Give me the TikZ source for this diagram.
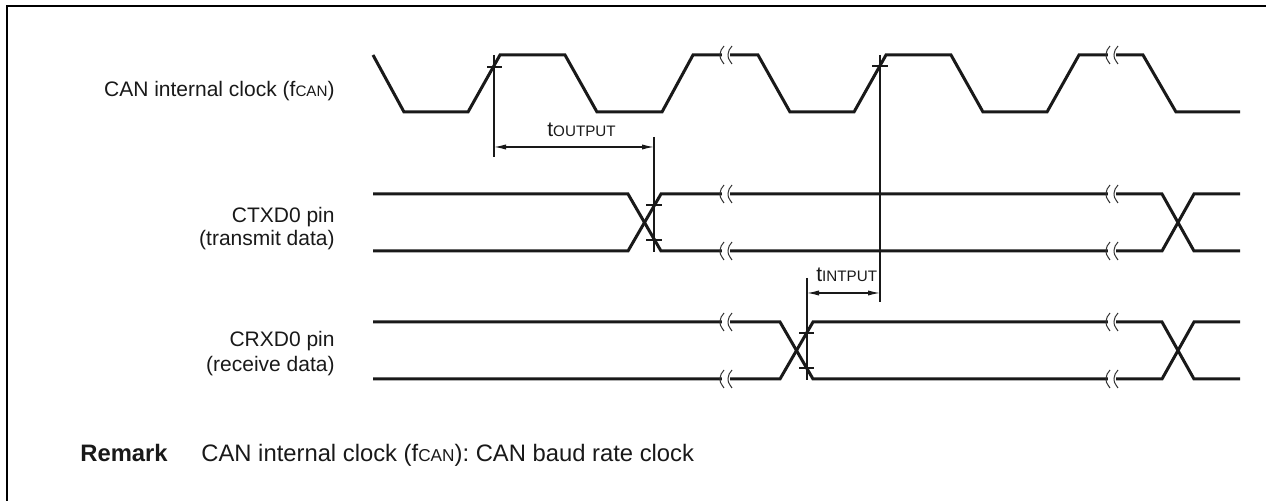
\documentclass[tikz,border=0pt]{standalone}
\usepackage{fontspec}
\setmainfont{Liberation Sans}
\usetikzlibrary{arrows.meta}
\newcommand{\smc}[1]{{\fontsize{7.6pt}{8pt}\selectfont #1}}
\newcommand{\smcr}[1]{{\fontsize{8.6pt}{9pt}\selectfont #1}}
\begin{document}
\begin{tikzpicture}[x=0.5pt,y=-0.5pt,
  sig/.style={line width=1.5pt,black!90},
  dimline/.style={line width=0.6pt,black!90},
  dimarrow/.style={dimline,{Latex[length=6pt,width=2.6pt]}-{Latex[length=6pt,width=2.6pt]}},
  lbl/.style={inner sep=0pt,font=\fontsize{10.5pt}{12pt}\selectfont,text=black!90},
  remlbl/.style={inner sep=0pt,font=\fontsize{11.9pt}{14pt}\selectfont,text=black!90},
  gapmark/.pic={
    \fill[white] (-4,-3) rectangle (4,3);
    \draw[line width=0.5pt,black!80] (-2,-9) .. controls (-7,-4) and (-7,3) .. (-4,6) .. controls (-3,7.5) .. (-2,9);
    \draw[line width=0.5pt,black!80] (6,-9) .. controls (1,-4) and (1,3) .. (4,6) .. controls (5,7.5) .. (6,9);
  }]
\useasboundingbox (0,0) rectangle (1266,501);
% frame
\draw[line width=1pt] (6.5,501) -- (6.5,5.7) -- (1266,5.7);

% clock
\draw[sig] (373,55) -- (404,112) -- (468,112) -- (500,55) -- (565,55) -- (597,112) -- (662,112) -- (693,55) -- (758,55) -- (790,112) -- (854,112) -- (886,55) -- (951,55) -- (983,112) -- (1047,112) -- (1079,55) -- (1143,55) -- (1176,112) -- (1240,112);
\pic at (726,55) {gapmark};
\pic at (1112,55) {gapmark};

% CTXD0
\draw[sig] (373,194) -- (628,194) -- (661,251) -- (1162,251) -- (1194,194) -- (1240,194);
\draw[sig] (373,251) -- (628,251) -- (661,194) -- (1162,194) -- (1194,251) -- (1240,251);
\foreach \yy in {194,251} {
  \pic at (726,\yy) {gapmark};
  \pic at (1112,\yy) {gapmark};
}

% CRXD0
\draw[sig] (373,322) -- (780,322) -- (813,379) -- (1162,379) -- (1194,322) -- (1240,322);
\draw[sig] (373,379) -- (780,379) -- (813,322) -- (1162,322) -- (1194,379) -- (1240,379);
\foreach \yy in {322,379} {
  \pic at (726,\yy) {gapmark};
  \pic at (1112,\yy) {gapmark};
}

% t_OUTPUT dimension
\coordinate (oa) at (494,55);
\coordinate (ob) at (494,157);
\coordinate (oc) at (654,137);
\coordinate (od) at (654,252);
\coordinate (oaa) at (494,147);
\coordinate (occ) at (654,147);
\draw[dimline] (oa) -- (ob);
\draw[dimline] (oc) -- (od);
\draw[dimline] (487,67) -- (502,67);
\draw[dimline] (646,205) -- (662,205);
\draw[dimline] (646,240) -- (662,240);
\draw[dimarrow] (oaa) -- (occ);
\node[lbl,anchor=base west] (tout) at (547,137) {t\smc{OUTPUT}};

% t_INTPUT dimension
\coordinate (ia) at (880,55);
\coordinate (ib) at (880,302);
\coordinate (ic) at (807,278);
\coordinate (id) at (807,380);
\coordinate (iaa) at (807,293);
\coordinate (icc) at (880,293);
\draw[dimline] (ia) -- (ib);
\draw[dimline] (ic) -- (id);
\draw[dimline] (872,66) -- (888,66);
\draw[dimline] (799,333) -- (814,333);
\draw[dimline] (799,368) -- (814,368);
\draw[dimarrow] (iaa) -- (icc);
\node[lbl,anchor=base west] (tin) at (816,282) {t\smc{INTPUT}};

% signal labels
\node[lbl,anchor=base east] (lclk) at (335,97) {CAN internal clock (f\smc{CAN})};
\node[lbl,anchor=base east] (ltx1) at (335,223) {CTXD0 pin};
\node[lbl,anchor=base east] (ltx2) at (335,246) {(transmit data)};
\node[lbl,anchor=base east] (lrx1) at (335,347) {CRXD0 pin};
\node[lbl,anchor=base east] (lrx2) at (335,372) {(receive data)};

% remark
\node[remlbl,anchor=base west,font=\fontsize{11.9pt}{14pt}\selectfont\bfseries] (rem) at (80,462) {Remark};
\node[remlbl,anchor=base west] (remtxt) at (201,462) {CAN internal clock (f\smcr{CAN}): CAN baud rate clock};
\end{tikzpicture}
\end{document}
